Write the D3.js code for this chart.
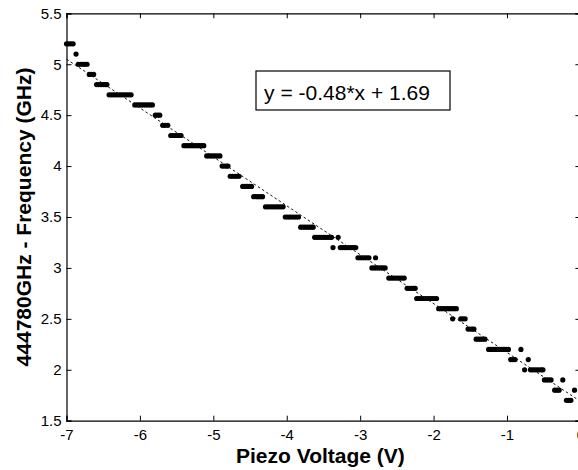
<!DOCTYPE html>
<html>
<head>
<meta charset="utf-8">
<script src="https://cdn.jsdelivr.net/npm/d3@7/dist/d3.min.js"></script>
<style>
  html, body { margin: 0; padding: 0; background: #fff; }
  svg { display: block; }
  text { font-family: "Liberation Sans", Arial, Helvetica, sans-serif; fill: #000; }
</style>
</head>
<body>
<svg id="chart" width="578" height="470"></svg>
<script>
// Measured frequency offsets (GHz), quantised in 0.1 GHz steps
const freqLevels = [5.2, 5.1, 5.0, 4.9, 4.8, 4.7, 4.6, 4.5, 4.4, 4.3, 4.2, 4.1, 4.0,
  3.9, 3.8, 3.7, 3.6, 3.5, 3.4, 3.3, 3.2, 3.1, 3.0, 2.9, 2.8, 2.7, 2.6, 2.5, 2.4,
  2.3, 2.2, 2.1, 2.0, 1.9, 1.8, 1.7];

// Piezo voltages (V) at which each frequency level was recorded
const voltagesAtLevel = [
  [-7.00, -6.97, -6.94, -6.91],
  [-6.87],
  [-6.84, -6.81, -6.78, -6.75, -6.72],
  [-6.69, -6.66, -6.63],
  [-6.59, -6.56, -6.53, -6.50, -6.47, -6.45],
  [-6.42, -6.39, -6.36, -6.33, -6.30, -6.27, -6.24, -6.21, -6.18, -6.15, -6.12],
  [-6.07, -6.04, -6.01, -5.98, -5.95, -5.92, -5.89, -5.86, -5.83],
  [-5.79, -5.76, -5.73],
  [-5.69, -5.66, -5.62],
  [-5.58, -5.55, -5.52, -5.49, -5.46, -5.44],
  [-5.40, -5.37, -5.34, -5.31, -5.28, -5.25, -5.22, -5.19, -5.16, -5.13],
  [-5.09, -5.06, -5.03, -5.00, -4.97, -4.94, -4.91],
  [-4.88, -4.85, -4.82, -4.80],
  [-4.77, -4.74, -4.71, -4.68, -4.65],
  [-4.60, -4.57, -4.54, -4.51, -4.48],
  [-4.45, -4.42, -4.39, -4.36, -4.33],
  [-4.29, -4.26, -4.23, -4.20, -4.17, -4.14, -4.11, -4.08, -4.05],
  [-4.02, -3.99, -3.96, -3.93, -3.90, -3.87, -3.84],
  [-3.81, -3.78, -3.75, -3.72, -3.69, -3.66, -3.64],
  [-3.62, -3.59, -3.56, -3.53, -3.50, -3.47, -3.44, -3.41, -3.39, -3.30],
  [-3.37, -3.27, -3.24, -3.21, -3.18, -3.15, -3.12, -3.09, -3.06],
  [-3.03, -3.00, -2.97, -2.94, -2.91, -2.88, -2.79],
  [-2.84, -2.81, -2.78, -2.75, -2.72, -2.69, -2.66],
  [-2.61, -2.58, -2.55, -2.52, -2.49, -2.46, -2.43, -2.40],
  [-2.36, -2.33, -2.30, -2.27, -2.25],
  [-2.23, -2.20, -2.17, -2.14, -2.11, -2.08, -2.05, -2.02, -1.99, -1.96],
  [-1.93, -1.90, -1.87, -1.84, -1.81, -1.78, -1.75, -1.72, -1.69],
  [-1.74, -1.63, -1.60, -1.57],
  [-1.53, -1.50, -1.47, -1.45],
  [-1.42, -1.39, -1.36, -1.33, -1.30],
  [-1.25, -1.22, -1.19, -1.16, -1.13, -1.10, -1.07, -1.04, -1.01, -0.98, -0.81],
  [-0.95, -0.92, -0.89, -0.71],
  [-0.76, -0.68, -0.65, -0.62, -0.59, -0.56, -0.53, -0.51],
  [-0.49, -0.46, -0.43, -0.40, -0.24],
  [-0.35, -0.32, -0.29, -0.08],
  [-0.19, -0.16, -0.13]
];

// Linear fit reported in the annotation
const fitSlope = -0.48;
const fitIntercept = 1.69;

const xTicks = [-7, -6, -5, -4, -3, -2, -1, 0];
const xTickLabels = ["-7", "-6", "-5", "-4", "-3", "-2", "-1", "0"];
const yTicks = [1.5, 2, 2.5, 3, 3.5, 4, 4.5, 5, 5.5];
const yTickLabels = ["1.5", "2", "2.5", "3", "3.5", "4", "4.5", "5", "5.5"];

const svg = d3.select("#chart");
const plotL = 66.5, plotR = 580.4, plotT = 13.3, plotB = 420.7;

const x = d3.scaleLinear().domain([-7, 0]).range([plotL, plotR]);
const y = d3.scaleLinear().domain([1.5, 5.5]).range([plotB, plotT]);

// Flatten into (voltage, frequency) samples
const points = [];
freqLevels.forEach((f, i) => voltagesAtLevel[i].forEach(v => points.push({ v, f })));

// Data markers
svg.append("g")
  .selectAll("circle")
  .data(points)
  .join("circle")
  .attr("cx", d => x(d.v))
  .attr("cy", d => y(d.f))
  .attr("r", 2.6)
  .attr("fill", "#000");

// Fitted line
svg.append("line")
  .attr("x1", x(-7)).attr("y1", y(fitSlope * -7 + fitIntercept))
  .attr("x2", x(0)).attr("y2", y(fitSlope * 0 + fitIntercept))
  .attr("stroke", "#111")
  .attr("stroke-width", 1)
  .attr("stroke-dasharray", "2.5,2.5");

// Axes with inward ticks on all four sides
const tickLen = 5;
svg.append("g")
  .attr("transform", `translate(0,${plotB})`)
  .call(d3.axisBottom(x).tickValues(xTicks).tickSize(-tickLen).tickPadding(9)
    .tickFormat((d, i) => xTickLabels[i]))
  .call(g => g.selectAll("text").attr("font-size", 15));
svg.append("g")
  .attr("transform", `translate(0,${plotT})`)
  .call(d3.axisTop(x).tickValues(xTicks).tickSize(-tickLen).tickFormat(""));
svg.append("g")
  .attr("transform", `translate(${plotL},0)`)
  .call(d3.axisLeft(y).tickValues(yTicks).tickSize(-tickLen).tickPadding(5)
    .tickFormat((d, i) => yTickLabels[i]))
  .call(g => g.selectAll("text").attr("font-size", 15));
svg.append("g")
  .attr("transform", `translate(${plotR},0)`)
  .call(d3.axisRight(y).tickValues(yTicks).tickSize(-tickLen).tickFormat(""));

svg.selectAll(".domain").attr("stroke", "#000").attr("stroke-width", 1.2);
svg.selectAll(".tick line").attr("stroke", "#000");
svg.selectAll(".tick text").attr("font-family", "'Liberation Sans', Arial, sans-serif").attr("fill", "#000");

// Axis titles
svg.append("text")
  .attr("x", (plotL + plotR) / 2 - 3)
  .attr("y", 463)
  .attr("text-anchor", "middle")
  .attr("font-size", 21)
  .attr("font-weight", "bold")
  .text("Piezo Voltage (V)");

svg.append("text")
  .attr("transform", `translate(31,${(plotT + plotB) / 2}) rotate(-90)`)
  .attr("text-anchor", "middle")
  .attr("font-size", 21)
  .attr("font-weight", "bold")
  .text("444780GHz - Frequency (GHz)");

// Fit equation box
const box = svg.append("g");
box.append("rect")
  .attr("x", 256).attr("y", 71)
  .attr("width", 194).attr("height", 39)
  .attr("fill", "#fff")
  .attr("stroke", "#000")
  .attr("stroke-width", 1.2);
box.append("text")
  .attr("x", 347).attr("y", 100)
  .attr("text-anchor", "middle")
  .attr("font-size", 21)
  .text(`y = ${fitSlope}*x + ${fitIntercept}`);
</script>
</body>
</html>
